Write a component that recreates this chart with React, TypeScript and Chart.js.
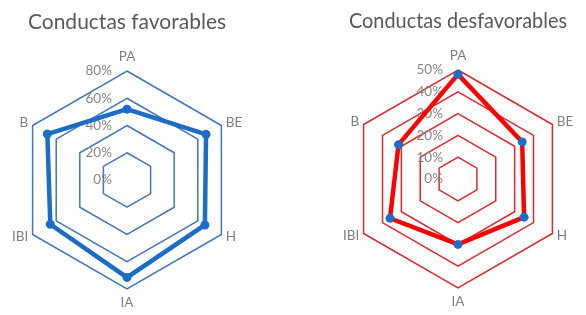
import React, { useEffect, useRef } from "react";
import { Chart, registerables } from "chart.js";

Chart.register(...registerables);

const categories = ["PA", "BE", "H", "IA", "IBI", "B"];
const favorables = [52, 67, 66, 71.5, 65, 67.5];
const desfavorables = [48, 34, 35, 30, 36, 31.5];
const favTicks = [0, 20, 40, 60, 80];
const desfTicks = [0, 10, 20, 30, 40, 50];
const favTitle = "Conductas favorables";
const desfTitle = "Conductas desfavorables";

const FONT = "Lato, 'Open Sans', sans-serif";

const labelsPlugin = {
  id: "excelLabels",
  beforeDatasetsDraw(chart: any) {
    const r = chart.scales.r;
    const ctx = chart.ctx;
    const ticks: number[] = chart.options.plugins.excelLabels.ticks;
    ctx.save();
    ctx.font = `13.5px ${FONT}`;
    ctx.fillStyle = "#868686";
    ctx.textAlign = "right";
    ctx.textBaseline = "middle";
    ticks.forEach((v) => {
      const d = r.getDistanceFromCenterForValue(v);
      ctx.fillText(v + "%", r.xCenter - 15, r.yCenter - d);
    });
    ctx.restore();
  },
  afterDraw(chart: any) {
    const r = chart.scales.r;
    const ctx = chart.ctx;
    const labels: string[] = chart.data.labels;
    ctx.save();
    ctx.font = `13.5px ${FONT}`;
    ctx.fillStyle = "#7f7f7f";
    ctx.textBaseline = "middle";
    labels.forEach((lab, i) => {
      const n = labels.length;
      if (i === 0 || i === n / 2) {
        const p = r.getPointPosition(i, r.drawingArea + 14);
        ctx.textAlign = "center";
        ctx.fillText(lab, p.x, p.y);
      } else {
        const p = r.getPointPosition(i, r.drawingArea + 5);
        ctx.textAlign = p.x > r.xCenter ? "left" : "right";
        ctx.fillText(lab, p.x, p.y);
      }
    });
    ctx.restore();
  },
};

type Props = {
  title: string;
  values: number[];
  ticks: number[];
  lineColor: string;
  pointColor: string;
  gridColor: string;
  pad: { left: number; right: number; top: number; bottom: number };
};

function RadarPanel({ title, values, ticks, lineColor, pointColor, gridColor, pad }: Props) {
  const ref = useRef<HTMLCanvasElement>(null);
  useEffect(() => {
    if (!ref.current) return;
    const max = ticks[ticks.length - 1];
    const step = ticks[1] - ticks[0];
    const chart = new Chart(ref.current, {
      type: "radar",
      data: {
        labels: categories,
        datasets: [
          {
            data: values,
            borderColor: lineColor,
            backgroundColor: pointColor,
            borderWidth: 4.5,
            pointRadius: 4.5,
            pointBackgroundColor: pointColor,
            pointBorderWidth: 0,
            fill: false,
          },
        ],
      },
      options: {
        responsive: false,
        animation: false,
        layout: { padding: pad },
        scales: {
          r: {
            min: 0,
            max,
            ticks: { stepSize: step, display: false },
            pointLabels: { display: false },
            angleLines: { display: false },
            grid: { color: gridColor, lineWidth: 1.5 },
          },
        },
        plugins: {
          legend: { display: false },
          tooltip: { enabled: false },
          title: {
            display: true,
            text: title,
            color: "#595959",
            font: { family: FONT, size: 21, weight: "normal", lineHeight: "24px" },
            padding: { top: 6, bottom: 37 },
          },
          excelLabels: { ticks },
        } as any,
      },
      plugins: [labelsPlugin],
    } as any);
    return () => chart.destroy();
  }, []);
  return <canvas ref={ref} width={293} height={315} style={{ display: "block" }} />;
}

export default function App() {
  return (
    <div
      style={{
        position: "absolute",
        left: 0,
        top: 0,
        width: 586,
        height: 315,
        display: "flex",
        background: "#ffffff",
      }}
    >
      <RadarPanel
        title={favTitle}
        values={favorables}
        ticks={favTicks}
        lineColor="#1c6dc6"
        pointColor="#1c6dc6"
        gridColor="#3f77c0"
        pad={{ left: 18, right: 57, top: 4, bottom: 26 }}
      />
      <RadarPanel
        title={desfTitle}
        values={desfavorables}
        ticks={desfTicks}
        lineColor="#ff0000"
        pointColor="#1f6fc6"
        gridColor="#e8272c"
        pad={{ left: 56, right: 19, top: 3, bottom: 27 }}
      />
    </div>
  );
}
